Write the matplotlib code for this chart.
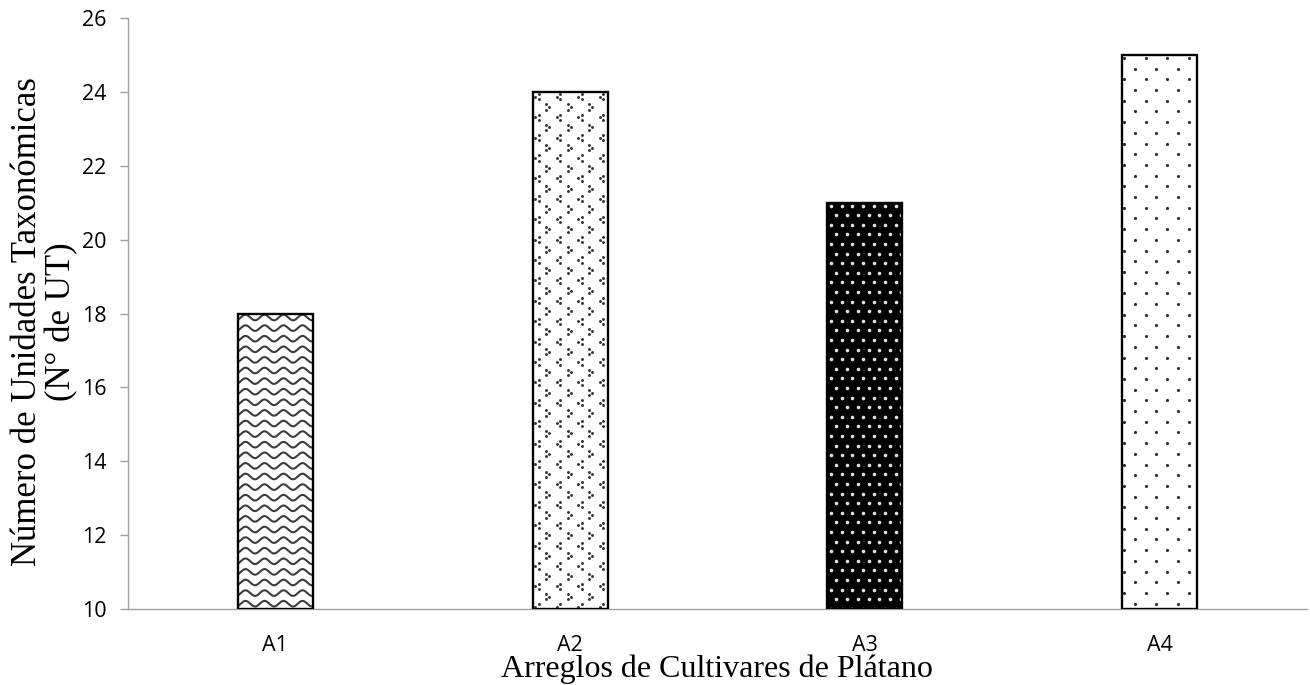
import numpy as np
import matplotlib
matplotlib.use('Agg')
import matplotlib.pyplot as plt

# Data
categories = ['A1', 'A2', 'A3', 'A4']
values = [18, 24, 21, 25]
yticks = [10, 12, 14, 16, 18, 20, 22, 24, 26]

W, H = 1310, 685
fig = plt.figure(figsize=(W / 100., H / 100.), dpi=100)
# axes in pixels: left 128, right 1307, top 18, bottom 609
ax = fig.add_axes([128. / W, 1 - 609. / H, (1307. - 128.) / W, (609. - 18.) / H])

x = np.arange(len(categories))
ax.set_xlim(-0.5, len(categories) - 0.5)
ax.set_ylim(10, 26)

bar_w = 0.255
face = ['white', 'white', 'black', 'white']
bars = ax.bar(x, np.array(values) - 10, bottom=10, width=bar_w,
              color=face, edgecolor='none', zorder=1)
ax.bar(x, np.array(values) - 10, bottom=10, width=bar_w,
       fill=False, edgecolor='black', linewidth=1.7, zorder=4)


def pix_box(rect):
    '''Pixel bbox of a bar rectangle'''
    x0, y0 = rect.get_x(), rect.get_y()
    p = ax.transData.transform([[x0, y0], [x0 + rect.get_width(), y0 + rect.get_height()]])
    return p[0, 0], p[0, 1], p[1, 0], p[1, 1]


def to_data(px, py):
    d = ax.transData.inverted().transform(np.column_stack([px, py]))
    return d[:, 0], d[:, 1]


def clip_to(lines, rect):
    for ln in lines:
        ln.set_clip_path(rect)


def grid_pts(rect, dx, dy, x_off, y_off, stagger=True):
    x0, y0, x1, y1 = pix_box(rect)
    px, py, row = [], [], []
    j = 0
    yy = y1 - y_off
    while yy > y0 - dy:
        sh = (dx / 2.) if (stagger and j % 2) else 0.
        xx = x0 + x_off + sh - dx
        while xx < x1 + dx:
            px.append(xx)
            py.append(yy)
            row.append(j)
            xx += dx
        yy -= dy
        j += 1
    return np.array(px), np.array(py), np.array(row)


# A1: wavy lines
x0, y0, x1, y1 = pix_box(bars[0])
xs = np.linspace(x0 - 5, x1 + 5, 300)
yy = y1 - 4
while yy > y0 - 10:
    ys = yy + 2.8 * np.sin(2 * np.pi * (xs - x0 - 3) / 19.)
    dxs, dys = to_data(xs, ys)
    clip_to(ax.plot(dxs, dys, color='#3c3c3c', lw=1.5, zorder=2), bars[0])
    yy -= 10.6

# A2: alternating chevrons made of three dots
px, py, row = grid_pts(bars[1], 21.5, 10.2, 4.5, 5, stagger=True)
for sgn, sel in [(-1, row % 2 == 0), (1, row % 2 == 1)]:
    cx, cy = px[sel], py[sel]
    dots_x = np.concatenate([cx - 1.6 * sgn, cx + 1.6 * sgn, cx - 1.6 * sgn])
    dots_y = np.concatenate([cy + 2.6, cy, cy - 2.6])
    dx_, dy_ = to_data(dots_x, dots_y)
    clip_to(ax.plot(dx_, dy_, 'o', ms=2.1, mew=0, color='#333333', zorder=2), bars[1])

# A3: white dots on black
px, py, row = grid_pts(bars[2], 10.8, 9.6, 3.5, 3, stagger=True)
dx_, dy_ = to_data(px, py)
clip_to(ax.plot(dx_, dy_, 'o', ms=2.6, mew=0, color='#e0e0e0', zorder=2), bars[2])

# A4: sparse dark dots
px, py, row = grid_pts(bars[3], 21.6, 10.7, 2, 3, stagger=True)
dx_, dy_ = to_data(px, py)
clip_to(ax.plot(dx_, dy_, 'o', ms=2.3, mew=0, color='#333333', zorder=2), bars[3])

# Axes style
for s in ['top', 'right']:
    ax.spines[s].set_visible(False)
for s in ['left', 'bottom']:
    ax.spines[s].set_color('#a0a0a0')
    ax.spines[s].set_linewidth(1.0)
ax.set_yticks(yticks)
ax.set_xticks(x)
ax.set_xticklabels(categories)
ax.tick_params(axis='y', direction='out', length=5.5, width=1.0, color='#a0a0a0',
               pad=10, labelsize=15.5)
ax.tick_params(axis='x', length=0, pad=19, labelsize=15.5)
for lab in ax.get_xticklabels() + ax.get_yticklabels():
    lab.set_fontfamily('Open Sans')

fig.text(45. / W, 1 - 322. / H, u'Número de Unidades Taxonómicas\n(N° de UT)',
         rotation=90, ha='center', va='center', multialignment='center',
         family='Liberation Serif', fontsize=25, linespacing=1.05)
fig.text(717. / W, 1 - 677. / H, u'Arreglos de Cultivares de Plátano',
         ha='center', va='baseline', family='Liberation Serif', fontsize=23)

plt.savefig('out.png', dpi=100)
